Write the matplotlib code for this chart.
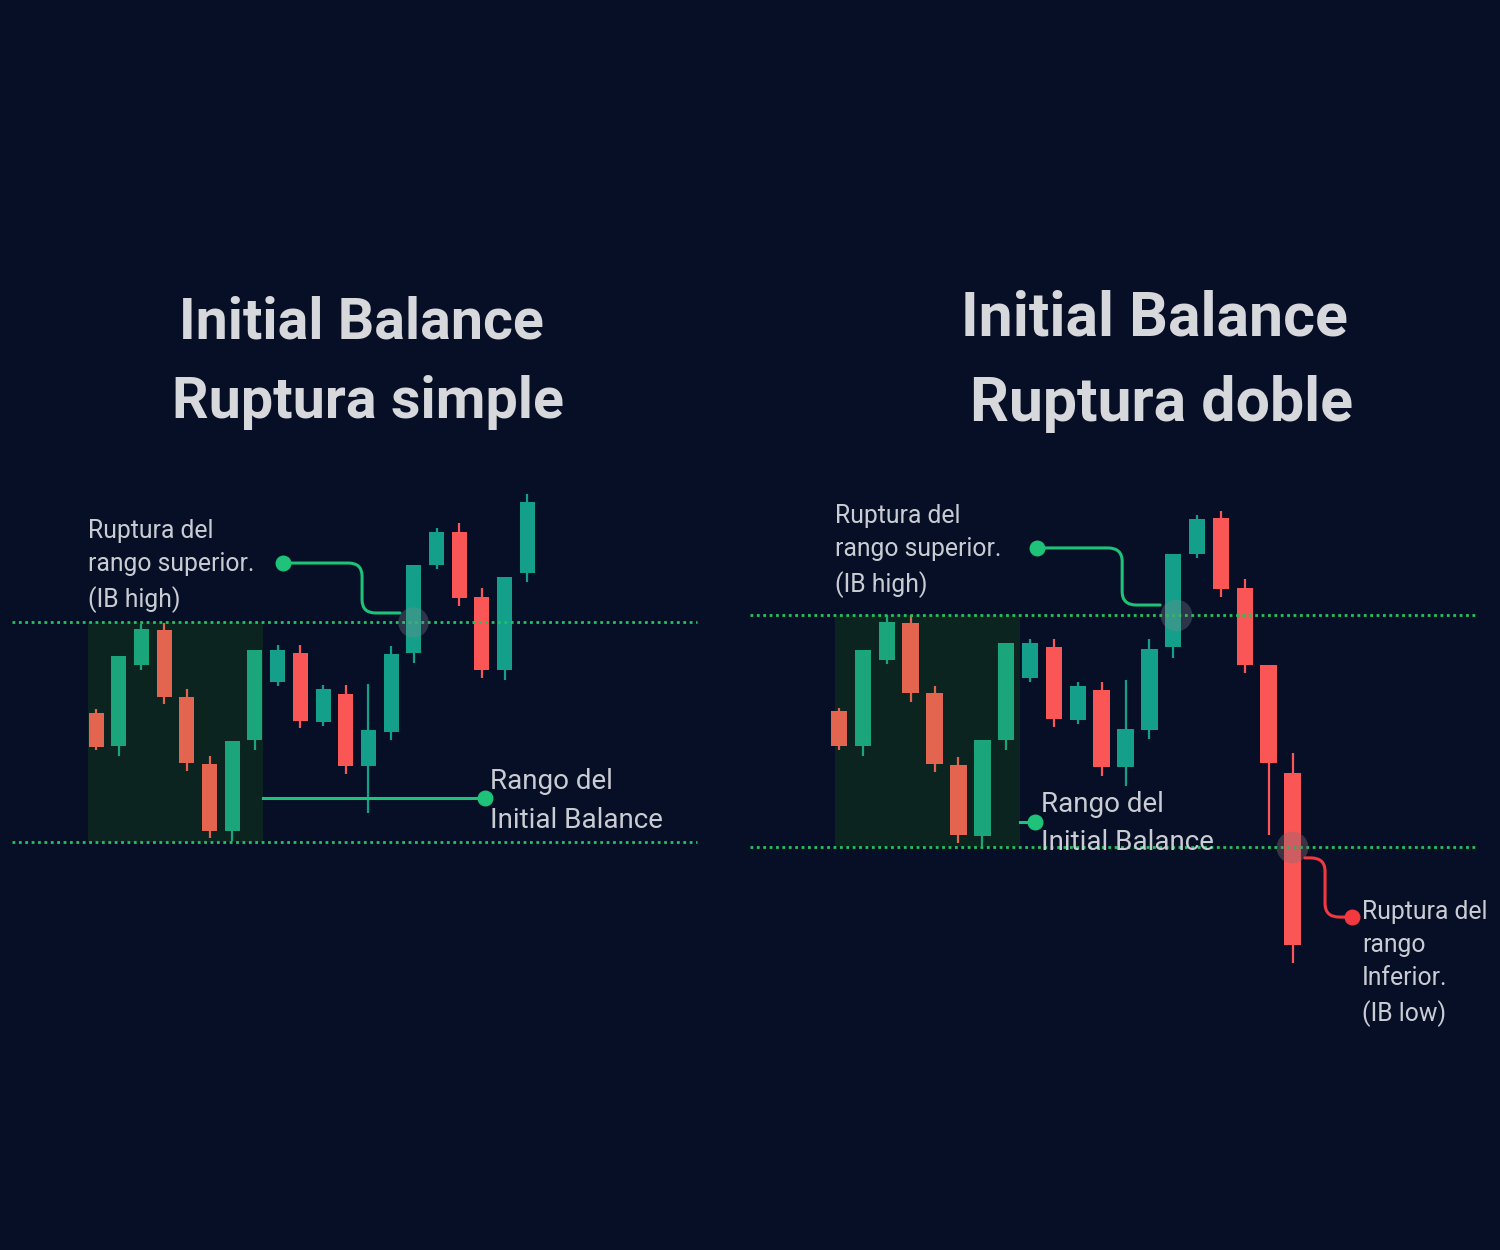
import matplotlib.pyplot as plt
import numpy as np
from matplotlib.path import Path
from matplotlib.patches import PathPatch, Rectangle

plt.rcParams['font.family'] = ['Roboto', 'DejaVu Sans']

# left chart: "Ruptura simple"  (IB low = 100, IB high = 200)
left_open = [158.6, 143.6, 180.5, 196.4, 165.9, 135.5, 105.0, 146.4,
             172.7, 185.9, 154.5, 167.3, 134.5, 150.0, 185.9, 225.9,
             240.9, 211.4, 178.2, 222.3]
left_high = [160.5, 184.5, 199.1, 199.5, 169.5, 139.1, 145.9, 187.3,
             189.5, 189.5, 171.4, 171.4, 171.8, 189.1, 225.9, 242.7,
             245.0, 215.5, 220.5, 258.2]
left_low = [141.8, 139.1, 178.2, 162.7, 132.3, 101.8, 100.5, 141.8,
            170.9, 151.8, 152.7, 130.9, 113.2, 146.4, 181.4, 224.1,
            207.3, 174.5, 173.6, 218.2]
left_close = [143.2, 184.5, 196.8, 165.9, 135.9, 105.0, 145.9, 187.3,
              187.3, 155.0, 169.5, 134.5, 150.9, 185.5, 225.9, 240.9,
              210.9, 178.2, 220.5, 254.5]

# right chart: "Ruptura doble"
right_open = [158.6, 143.5, 180.6, 196.6, 166.4, 135.3, 104.7, 146.1,
              172.8, 186.2, 154.7, 167.7, 134.5, 150.4, 186.2, 226.3,
              241.8, 211.6, 178.4, 131.9]
right_high = [159.9, 184.9, 200.0, 200.0, 169.4, 138.8, 146.1, 187.9,
              189.7, 189.7, 171.1, 171.1, 172.0, 189.7, 226.3, 243.1,
              244.8, 215.5, 178.4, 140.5]
right_low = [141.8, 139.2, 178.9, 162.5, 132.3, 101.7, 100.4, 141.8,
             171.1, 151.7, 153.0, 130.6, 126.3, 146.6, 181.5, 224.6,
             207.8, 175.0, 105.2, 50.0]
right_close = [143.5, 184.9, 197.0, 166.4, 135.8, 105.2, 146.1, 187.9,
               187.9, 155.2, 169.4, 134.5, 150.9, 185.3, 226.3, 241.4,
               211.2, 178.4, 136.2, 57.8]

ib_bars = 8
ib_high = 200
ib_low = 100

BG = '#070f27'
SHADE = '#0b2420'
TXT = '#c9cdd3'
TITLE = '#d6d8db'
LINE_GREEN = '#22c35e'
CONN_GREEN = '#1ec278'
CONN_RED = '#f2393f'


def draw_candles(ax, o, h, l, c, width):
    for i in range(len(o)):
        up = c[i] >= o[i]
        if i < ib_bars:
            col = '#1ba57a' if up else '#e4654f'
        else:
            col = '#139f89' if up else '#fa5656'
        ax.vlines(i, l[i], h[i], color=col, lw=1.6, zorder=3)
        ax.bar(i, abs(c[i] - o[i]), bottom=min(o[i], c[i]), width=width,
               color=col, zorder=4)


def elbow(ax, x0, y0, xm, y1, x1, rx, ry, color):
    s = -1 if y1 < y0 else 1
    verts = [(x0, y0), (xm - rx, y0), (xm, y0), (xm, y0 + s * ry),
             (xm, y1 - s * ry), (xm, y1), (xm + rx, y1), (x1, y1)]
    codes = [Path.MOVETO, Path.LINETO, Path.CURVE3, Path.CURVE3,
             Path.LINETO, Path.CURVE3, Path.CURVE3, Path.LINETO]
    ax.add_patch(PathPatch(Path(verts, codes), fill=False, ec=color,
                           lw=2.2, zorder=6, capstyle='round'))


def base(ax, xlim, ylim, line_x, shade_x):
    ax.set_xlim(*xlim)
    ax.set_ylim(*ylim)
    ax.axis('off')
    ax.add_patch(Rectangle((shade_x[0], ib_low), shade_x[1] - shade_x[0],
                           ib_high - ib_low, color=SHADE, zorder=1, lw=0))
    for lvl in (ib_high, ib_low):
        ax.plot(line_x, [lvl, lvl], color=LINE_GREEN, lw=2,
                ls=(0, (1, 1.3)), zorder=5)


fig = plt.figure(figsize=(15, 12.5), dpi=100, facecolor=BG)

# ---- left ----
axl = fig.add_axes([0, 0.12, 0.5, 0.504])
axl.set_facecolor(BG)
base(axl, (-4.23, 28.81), (-17.3, 269.1), [-3.7, 26.48], (-0.35, 7.35))
draw_candles(axl, left_open, left_high, left_low, left_close, 0.66)
elbow(axl, 8.24, 226.8, 11.72, 204.1, 13.39, 0.6, 6, CONN_GREEN)
axl.scatter([8.24], [226.8], s=110, color=CONN_GREEN, zorder=7)
axl.scatter([13.96], [200], s=480, color='#7d8a90', alpha=0.32, lw=0, zorder=8)
axl.text(-0.35, 225.4, 'Ruptura del\nrango superior.\n(IB high)', color=TXT,
         fontsize=17.8, va='center', ha='left', linespacing=1.48)
axl.plot([7.36, 17.14], [120, 120], color=CONN_GREEN, lw=2.2, zorder=6)
axl.scatter([17.14], [120], s=110, color=CONN_GREEN, zorder=7)
axl.text(17.36, 118.7, 'Rango del\nInitial Balance', color=TXT, fontsize=20,
         va='center', ha='left', linespacing=1.55)

# ---- right ----
axr = fig.add_axes([0.4967, 0.12, 0.5033, 0.504])
axr.set_facecolor(BG)
base(axr, (-3.94, 27.69), (-9.05, 262.5), [-3.73, 26.73], (-0.17, 7.58))
draw_candles(axr, right_open, right_high, right_low, right_close, 0.69)
elbow(axr, 8.29, 228.9, 11.86, 204.3, 13.45, 0.6, 5.8, CONN_GREEN)
axr.scatter([8.29], [228.9], s=110, color=CONN_GREEN, zorder=7)
axr.scatter([14.12], [200], s=520, color='#7d8a90', alpha=0.32, lw=0, zorder=8)
axr.text(-0.17, 227.6, 'Ruptura del\nrango superior.\n(IB high)', color=TXT,
         fontsize=17.8, va='center', ha='left', linespacing=1.48)
axr.plot([7.58, 8.21], [110.8, 110.8], color=CONN_GREEN, lw=2.2, zorder=6)
axr.scatter([8.21], [110.8], s=110, color=CONN_GREEN, zorder=7)
axr.text(8.46, 110.1, 'Rango del\nInitial Balance', color=TXT, fontsize=20,
         va='center', ha='left', linespacing=1.55, zorder=9)
axr.scatter([18.98], [100], s=520, color='#8a6a70', alpha=0.4, lw=0, zorder=8)
elbow(axr, 19.52, 95.3, 20.36, 69.8, 21.49, 0.6, 5.8, CONN_RED)
axr.scatter([21.49], [69.8], s=110, color=CONN_RED, zorder=7)
axr.text(21.91, 49.8, 'Ruptura del\nrango\nInferior.\n(IB low)', color=TXT,
         fontsize=17.8, va='center', ha='left', linespacing=1.48)

# titles
for x, y, t, fs in [(361, 323, 'Initial Balance', 41.3),
                    (368, 403, 'Ruptura simple', 41.3),
                    (1154, 319, 'Initial Balance', 43.8),
                    (1161, 404, 'Ruptura doble', 43.8)]:
    fig.text(x / 1500, 1 - y / 1250, t, color=TITLE, fontsize=fs,
             fontweight='bold', ha='center', va='center')

fig.savefig('out.png', dpi=100, facecolor=BG)
